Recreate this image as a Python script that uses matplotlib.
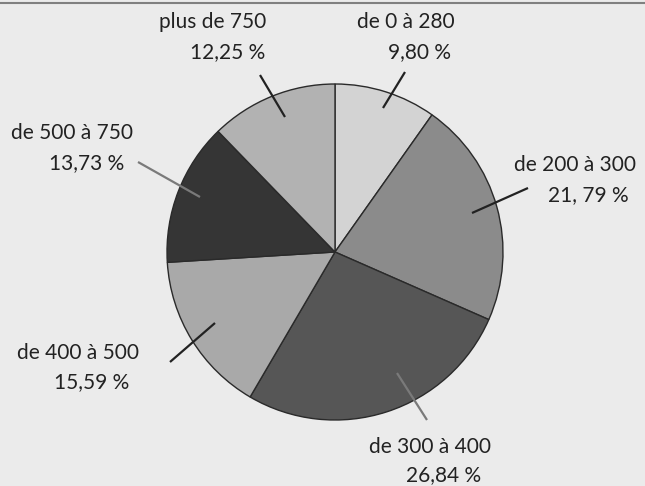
import matplotlib.pyplot as plt

# data (clockwise from 12 o'clock)
labels = ["de 0 à 280", "de 200 à 300", "de 300 à 400",
          "de 400 à 500", "de 500 à 750", "plus de 750"]
shares = [9.80, 21.79, 26.84, 15.59, 13.73, 12.25]
pct_text = ["9,80 %", "21, 79 %", "26,84 %", "15,59 %", "13,73 %", "12,25 %"]

colors = ["#d3d3d3", "#8b8b8b", "#565656", "#a9a9a9", "#353535", "#b2b2b2"]

# layout in pixel coords (y from top)
W, H = 645, 486
cx, cy, r = 335, 252, 168
line1_pos = [(406, 22), (575, 165), (430, 447), (78, 353), (72, 133), (213, 22)]
line2_pos = [(420, 52), (588, 195), (444, 475), (92, 382), (87, 163), (228, 52)]
leaders = [((405, 72), (383, 108)), ((528, 188), (472, 213)),
           ((427, 420), (397, 373)), ((170, 362), (215, 323)),
           ((138, 162), (200, 197)), ((260, 75), (285, 117))]
leader_colors = ["#222222", "#222222", "#7a7a7a", "#222222", "#7a7a7a", "#222222"]

bg = "#ebebeb"
fig = plt.figure(figsize=(6.45, 4.86), dpi=100, facecolor=bg)
ax = fig.add_axes([0, 0, 1, 1])
ax.set_facecolor(bg)

ax.pie(shares, colors=colors, startangle=90, counterclock=False,
       center=(cx, H - cy), radius=r, frame=True,
       wedgeprops=dict(edgecolor="#2a2a2a", linewidth=1.0))
ax.set_xlim(0, W)
ax.set_ylim(0, H)
ax.set_aspect("equal")
ax.axis("off")

font = dict(family="Lato", fontsize=15, color="#222222")
for i in range(len(labels)):
    x1, y1 = line1_pos[i]
    x2, y2 = line2_pos[i]
    ax.text(x1, H - y1, labels[i], ha="center", va="center", **font)
    ax.text(x2, H - y2, pct_text[i], ha="center", va="center", **font)
    (ax0, ay0), (ax1, ay1) = leaders[i]
    ax.plot([ax0, ax1], [H - ay0, H - ay1], color=leader_colors[i], lw=1.6,
            solid_capstyle="butt")

# top rule
ax.plot([0, W], [H - 3, H - 3], color="#808080", lw=1.5)

fig.savefig("out.png", dpi=100, facecolor=bg)
